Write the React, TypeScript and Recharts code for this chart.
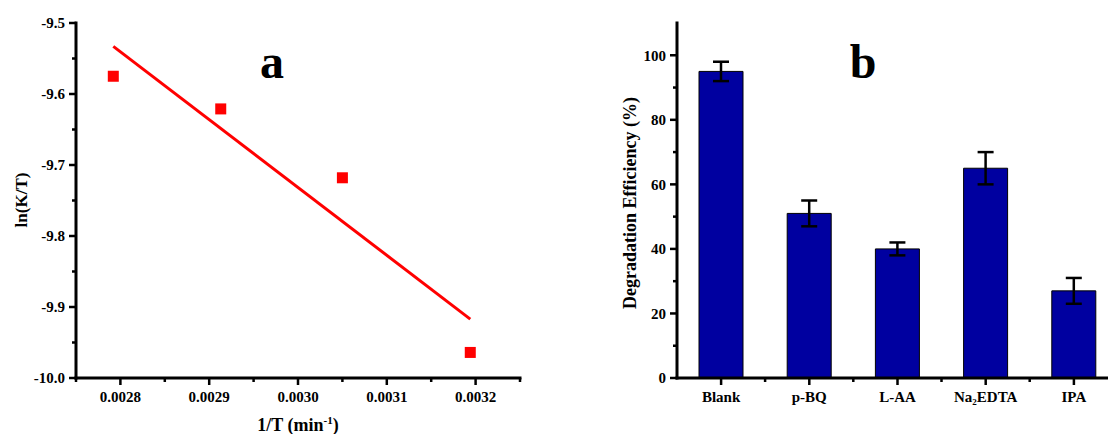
import React from "react";
import {
  ScatterChart,
  Scatter,
  BarChart,
  Bar,
  XAxis,
  YAxis,
  ErrorBar,
} from "recharts";

// panel a: Arrhenius-type plot
const invT = [0.002792, 0.002913, 0.00305, 0.003194];
const lnKT = [-9.575, -9.621, -9.718, -9.964];
const fitInvT = [0.002792, 0.003194];
const fitLnKT = [-9.533, -9.917];
const invTMajor = [0.0028, 0.0029, 0.003, 0.0031, 0.0032];
const invTMinor = [0.00275, 0.00285, 0.00295, 0.00305, 0.00315, 0.00325];
const lnMajor = [-10, -9.9, -9.8, -9.7, -9.6, -9.5];
const lnMinor = [-9.95, -9.85, -9.75, -9.65, -9.55];

// panel b: scavenger experiment
const scavengers = ["Blank", "p-BQ", "L-AA", "Na₂EDTA", "IPA"];
const efficiency = [95, 51, 40, 65, 27];
const efficiencyErr = [3, 4, 2, 5, 4];
const effMajor = [0, 20, 40, 60, 80, 100];
const effMinor = [10, 30, 50, 70, 90];

const points = invT.map((x, i) => ({ x, y: lnKT[i] }));
const fitLine = fitInvT.map((x, i) => ({ x, y: fitLnKT[i] }));
const bars = scavengers.map((name, i) => ({
  name,
  eff: efficiency[i],
  err: efficiencyErr[i],
}));

const FONT = '"Liberation Serif", "Times New Roman", serif';
const AXIS = { stroke: "#000", strokeWidth: 3, strokeLinecap: "square" as const };

const isIn = (list: number[], v: number) => list.some((m) => Math.abs(m - v) < 1e-9);

function BottomTick(props: any) {
  const { x, y, payload, major, fmt, halfBand } = props;
  const v = payload.value;
  const big = major ? isIn(major, v) : true;
  return (
    <g>
      <line x1={x} x2={x} y1={y} y2={y + (big ? 7 : 4)} stroke="#000" strokeWidth={2.5} />
      {halfBand ? (
        <line x1={x + halfBand} x2={x + halfBand} y1={y} y2={y + 4} stroke="#000" strokeWidth={2.5} />
      ) : null}
      {big && (
        <text
          x={x}
          y={y + 13}
          dy="0.71em"
          textAnchor="middle"
          fontFamily={FONT}
          fontWeight="bold"
          fontSize={15}
          fill="#000"
        >
          {fmt ? fmt(v) : v}
        </text>
      )}
    </g>
  );
}

function LeftTick(props: any) {
  const { x, y, payload, major, fmt } = props;
  const v = payload.value;
  const big = isIn(major, v);
  return (
    <g>
      <line x1={x} x2={x - (big ? 7 : 4)} y1={y} y2={y} stroke="#000" strokeWidth={2.5} />
      {big && (
        <text
          x={x - 11}
          y={y}
          dy="0.35em"
          textAnchor="end"
          fontFamily={FONT}
          fontWeight="bold"
          fontSize={15}
          fill="#000"
        >
          {fmt(v)}
        </text>
      )}
    </g>
  );
}

export default function App() {
  return (
    <div
      style={{
        position: "fixed",
        left: 0,
        top: 0,
        width: 1108,
        height: 434,
        overflow: "hidden",
        background: "#fff",
      }}
    >
      <div style={{ position: "absolute", left: 0, top: 0 }}>
        <ScatterChart width={560} height={434} margin={{ top: 23, right: 40, bottom: 0, left: 0 }}>
          <XAxis
            type="number"
            dataKey="x"
            domain={[0.00275, 0.00325]}
            ticks={[...invTMajor, ...invTMinor].sort((a, b) => a - b)}
            interval={0}
            allowDataOverflow
            height={56}
            tickSize={0}
            tickMargin={0}
            tickLine={false}
            axisLine={AXIS}
            tick={(p: any) => (
              <BottomTick {...p} major={invTMajor} fmt={(v: number) => v.toFixed(4)} />
            )}
          />
          <YAxis
            type="number"
            dataKey="y"
            domain={[-10, -9.5]}
            ticks={[...lnMajor, ...lnMinor].sort((a, b) => a - b)}
            interval={0}
            allowDataOverflow
            width={76}
            tickSize={0}
            tickMargin={0}
            tickLine={false}
            axisLine={AXIS}
            tick={(p: any) => (
              <LeftTick {...p} major={lnMajor} fmt={(v: number) => v.toFixed(1)} />
            )}
          />
          <Scatter
            data={fitLine}
            isAnimationActive={false}
            line={{ stroke: "#ff0000", strokeWidth: 3 }}
            shape={() => <g />}
          />
          <Scatter
            data={points}
            isAnimationActive={false}
            shape={(p: any) => (
              <rect x={p.cx - 5.5} y={p.cy - 5.5} width={11} height={11} fill="#ff0000" />
            )}
          />
        </ScatterChart>
      </div>

      <div style={{ position: "absolute", left: 560, top: 0 }}>
        <BarChart width={560} height={434} data={bars} margin={{ top: 23, right: 2, bottom: 0, left: 0 }}>
          <XAxis
            dataKey="name"
            interval={0}
            height={56}
            tickSize={0}
            tickMargin={0}
            tickLine={false}
            axisLine={AXIS}
            tick={(p: any) => <BottomTick {...p} halfBand={44} />}
          />
          <YAxis
            type="number"
            domain={[0, 110]}
            ticks={[...effMajor, ...effMinor].sort((a, b) => a - b)}
            interval={0}
            allowDataOverflow
            width={117}
            tickSize={0}
            tickMargin={0}
            tickLine={false}
            axisLine={AXIS}
            tick={(p: any) => <LeftTick {...p} major={effMajor} fmt={(v: number) => String(v)} />}
          />
          <Bar dataKey="eff" barSize={44} fill="#0000a0" stroke="#000" strokeWidth={1} isAnimationActive={false}>
            <ErrorBar dataKey="err" direction="y" width={8} stroke="#000" strokeWidth={2.5} />
          </Bar>
        </BarChart>
      </div>

      <svg
        width={1108}
        height={434}
        style={{ position: "absolute", left: 0, top: 0, pointerEvents: "none" }}
        fontFamily={FONT}
        fontWeight="bold"
        fill="#000"
      >
        <text x={27} y={200} textAnchor="middle" fontSize={17} transform="rotate(-90 27 200)">
          ln(K/T)
        </text>
        <text x={298} y={431} textAnchor="middle" fontSize={18}>
          1/T (min
          <tspan dy={-7} fontSize={11}>-1</tspan>
          <tspan dy={7}>)</tspan>
        </text>
        <text x={272} y={78} textAnchor="middle" fontSize={48}>a</text>
        <text x={863} y={78} textAnchor="middle" fontSize={48}>b</text>
        <text x={636} y={203} textAnchor="middle" fontSize={18} transform="rotate(-90 636 203)">
          Degradation Efficiency (%)
        </text>
      </svg>
    </div>
  );
}
